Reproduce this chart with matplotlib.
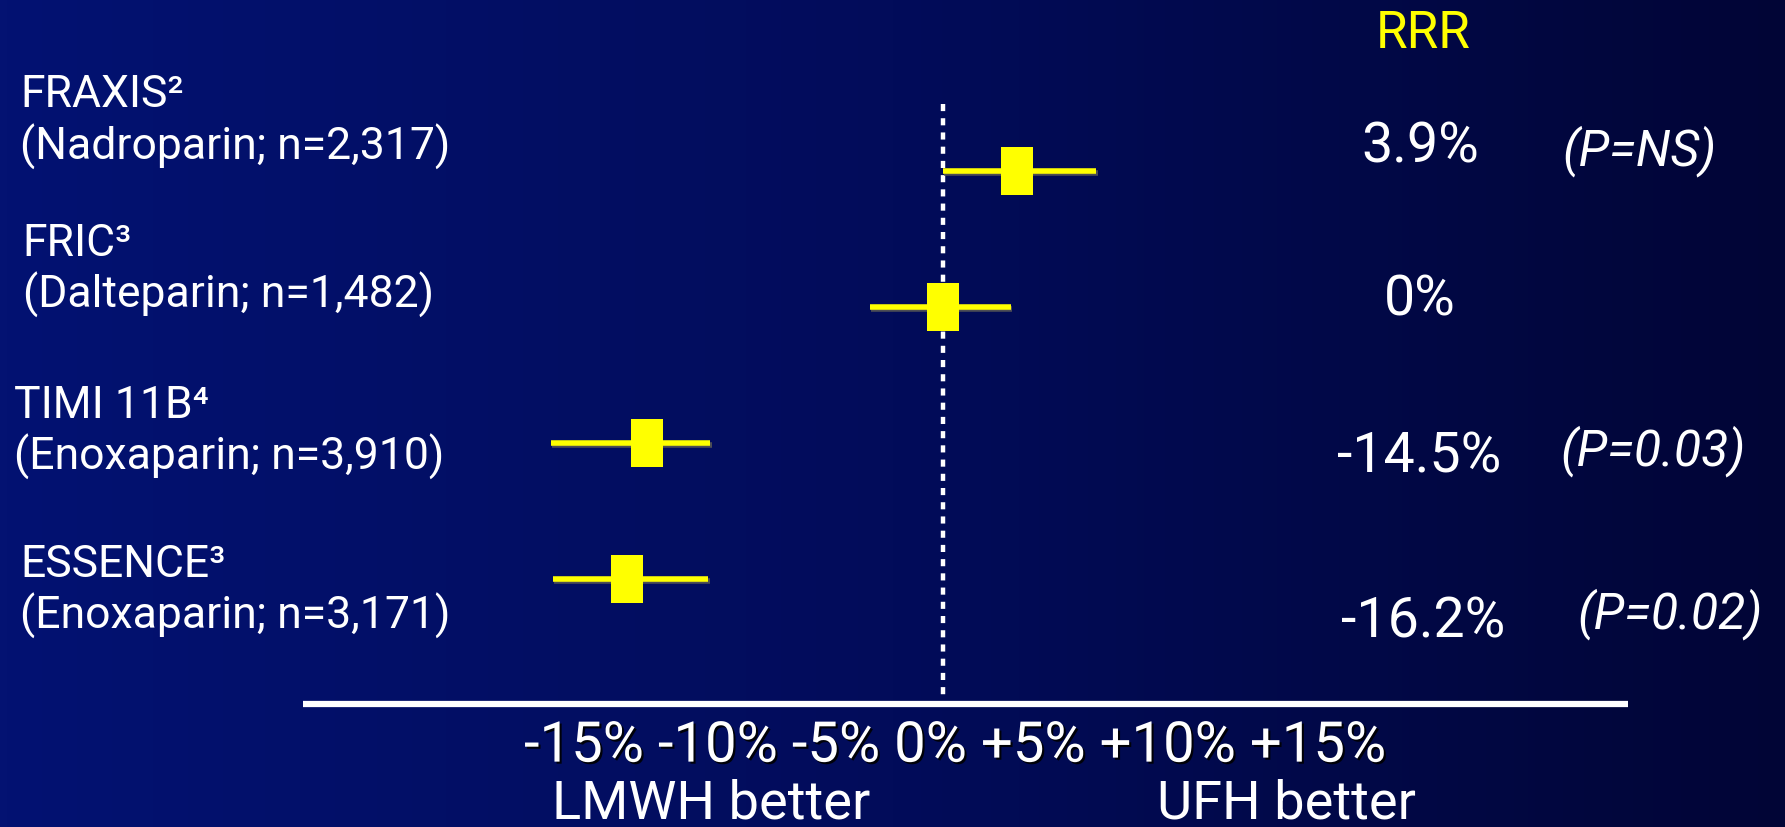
import numpy as np
import matplotlib
matplotlib.use("Agg")
import matplotlib.pyplot as plt
import matplotlib.patheffects as pe
from matplotlib.colors import LinearSegmentedColormap

# trial data
trials = ["FRAXIS", "FRIC", "TIMI 11B", "ESSENCE"]
refs = ["²", "³", "⁴", "³"]
drugs = ["Nadroparin", "Dalteparin", "Enoxaparin", "Enoxaparin"]
sizes = ["2,317", "1,482", "3,910", "3,171"]
point = [3.7, 0.0, -14.9, -15.9]
ci_low = [0.0, -3.7, -19.7, -19.6]
ci_high = [7.7, 3.4, -11.7, -11.8]
rrr_labels = ["3.9%", "0%", "-14.5%", "-16.2%"]
p_labels = ["(P=NS)", "", "(P=0.03)", "(P=0.02)"]
tick_labels = ["-15%", "-10%", "-5%", "0%", "+5%", "+10%", "+15%"]

FONT = ["Roboto", "DejaVu Sans"]
W, H = 1785, 827

fig = plt.figure(figsize=(W / 100, H / 100), dpi=100)
ax = fig.add_axes([0, 0, 1, 1])
ax.set_xlim(-47.4, 42.3)
ax.set_ylim(4.824, -1.257)
ax.axis("off")

# background gradient
cmap = LinearSegmentedColormap.from_list("bg", ["#031272", "#020c5a", "#010536"])
grad = np.linspace(0, 1, 256).reshape(1, -1)
ax.imshow(grad, cmap=cmap, aspect="auto", extent=(-47.4, 42.3, 4.824, -1.257), zorder=0)

rows = np.arange(len(trials))

# zero line and axis line
ax.plot([0, 0], [-0.49, 3.9], color="white", lw=3.2, linestyle=(0, (1.6, 1.6)), zorder=2)
ax.plot([-32.15, 34.4], [3.916, 3.916], color="white", lw=4.5, solid_capstyle="butt", zorder=2)

# CI lines and boxes
shadow = [pe.SimpleLineShadow(offset=(0.8, -1.2), shadow_color="#555555", alpha=0.9), pe.Normal()]
for i in rows:
    ax.plot([ci_low[i], ci_high[i]], [i, i], color="#ffff00", lw=4, solid_capstyle="butt",
            path_effects=shadow, zorder=3)
box = [(-0.33, -0.5), (0.33, -0.5), (0.33, 0.5), (-0.33, 0.5), (-0.33, -0.5)]
ax.plot(point, rows, linestyle="none", marker=box, markersize=34, color="#ffff00",
        markeredgewidth=0, zorder=4)

# left labels
name_pos = [(18, 83), (20, 214), (12, 356), (18, 496)]
drug_pos = [(18, 129), (20, 259), (12, 401), (18, 541)]
for i in rows:
    nx, ny = name_pos[i]
    ax.text(nx / 1568, 1 - ny / 726, trials[i] + refs[i], transform=ax.transAxes,
            color="white", fontsize=32, family=FONT, va="center", ha="left")
    dx, dy = drug_pos[i]
    ax.text(dx / 1568, 1 - dy / 726, f"({drugs[i]}; n={sizes[i]})", transform=ax.transAxes,
            color="white", fontsize=32, family=FONT, va="center", ha="left")

# RRR column
ax.text(1250 / 1568, 1 - 30 / 726, "RRR", transform=ax.transAxes, color="#ffff00",
        fontsize=37, family=FONT, ha="center", va="center")
rrr_pos = [(1248, 129), (1247, 263), (1247, 401), (1250, 546)]
p_pos = [(1440, 133), (0, 0), (1452, 396), (1467, 539)]
for i in rows:
    x, y = rrr_pos[i]
    ax.text(x / 1568, 1 - y / 726, rrr_labels[i], transform=ax.transAxes, color="white",
            fontsize=40, family=FONT, ha="center", va="center")
    if p_labels[i]:
        x, y = p_pos[i]
        ax.text(x / 1568, 1 - y / 726, p_labels[i], transform=ax.transAxes, color="white",
                fontsize=36, family=FONT, style="italic", ha="center", va="center")

# tick text and direction labels
tshadow = [pe.withSimplePatchShadow(offset=(1.5, -1.5), shadow_rgbFace="black", alpha=0.9)]
ax.text(839 / 1568, 1 - 655 / 726, " ".join(tick_labels), transform=ax.transAxes,
        color="white", fontsize=40.5, family=FONT, ha="center", va="center", path_effects=tshadow)
ax.text(625 / 1568, 1 - 706 / 726, "LMWH better", transform=ax.transAxes, color="white",
        fontsize=39, family=FONT, ha="center", va="center")
ax.text(1130 / 1568, 1 - 706 / 726, "UFH better", transform=ax.transAxes, color="white",
        fontsize=39, family=FONT, ha="center", va="center")

fig.savefig("out.png", dpi=100)
